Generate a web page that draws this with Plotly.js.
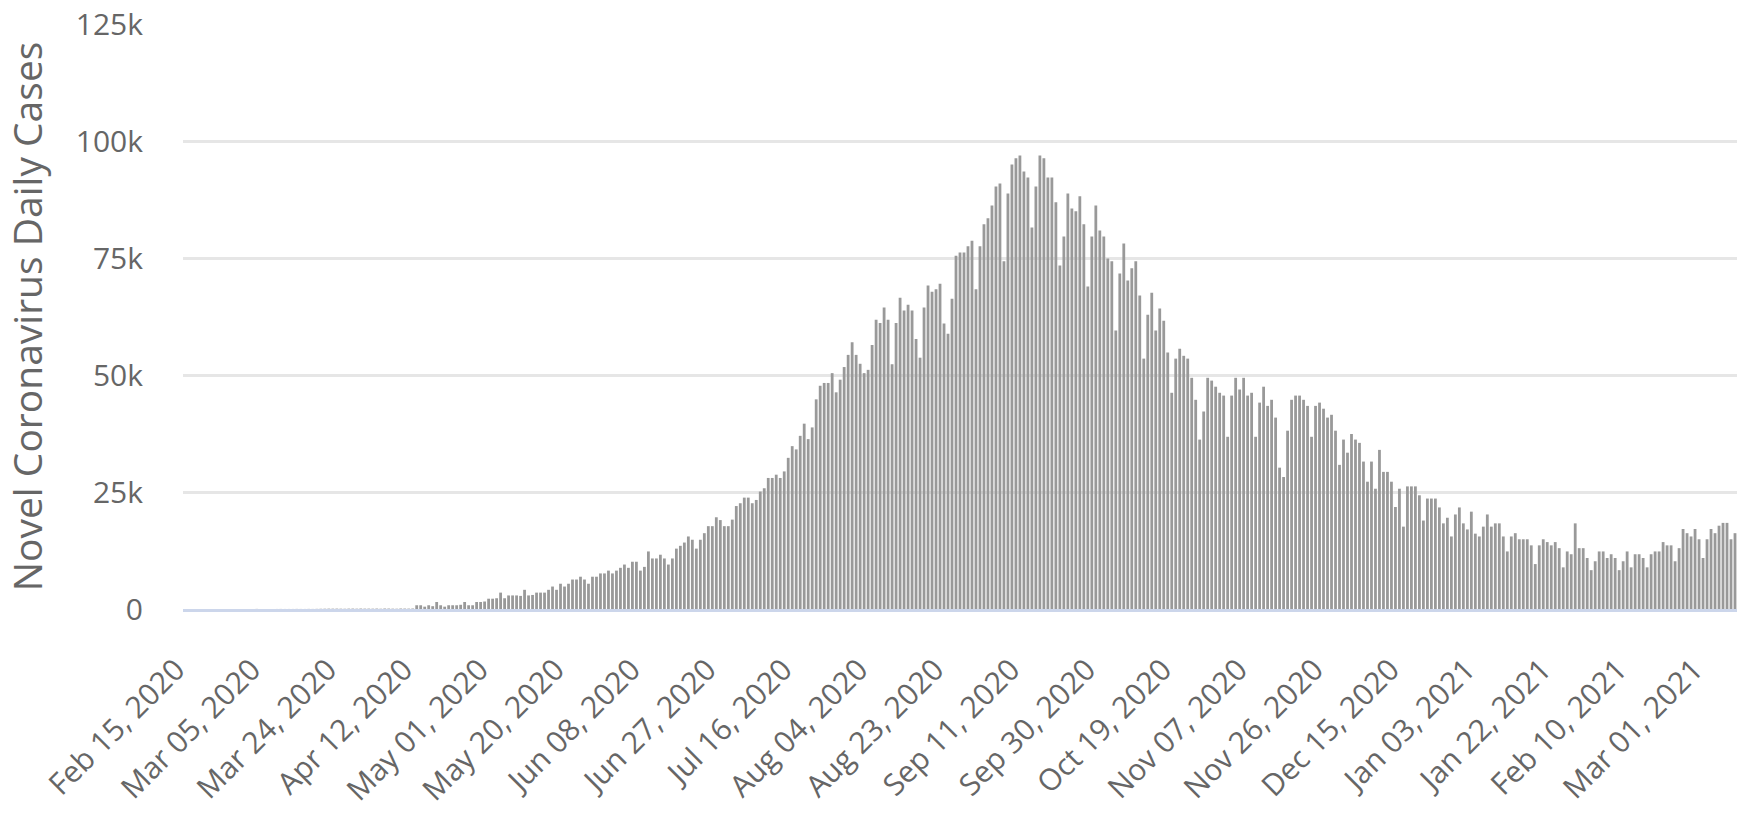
<!DOCTYPE html>
<html>
<head>
<meta charset="utf-8">
<script src="https://cdn.plot.ly/plotly-3.0.1.min.js"></script>
<style>
  html, body { margin: 0; padding: 0; background: #ffffff; }
  #chart { width: 1737px; height: 822px; }
</style>
</head>
<body>
<div id="chart"></div>
<script>
// First day shown on the chart; one bar per day after it
const startDate = "2020-02-15";

// Daily new cases, one array per month
const feb2020 = [0,0,0,0,0,0,0,0,0,0,0,0,0,0,0];
const mar2020 = [0,2,1,22,2,1,3,5,9,15,8,10,10,21,12,11,23,14,33,51,64,77,75,82,68,55,79,88,66,97,76];
const apr2020 = [80,70,90,60,100,90,70,60,100,90,80,100,
                 800,800,500,800,600,1500,800,500,800,800,800,900,1500,800,800,1500,1500,1600];
const may2020 = [2200,2200,2300,3500,2300,2900,2900,2900,2800,4100,2900,3000,3500,3500,3500,4100,
                 4800,4100,5400,4800,5400,6300,6300,6900,6300,5400,6900,6900,7600,7600,8200];
const jun2020 = [7600,8200,8800,9500,8800,10100,10100,8200,9000,12300,10800,10800,11600,10800,9500,
                 10800,12900,13500,14200,15500,14800,12900,14800,16200,17700,17700,19600,19000,17700,17700];
const jul2020 = [19100,22000,22600,23800,23800,22600,23300,25100,25800,28000,28000,28700,28000,29400,32300,
                 34800,34100,37000,39600,36300,38800,44800,47700,48300,48300,50400,46300,49000,51700,54300,57000];
const aug2020 = [54300,52400,50400,51100,56400,61800,61100,64400,61800,52300,61100,66500,63800,65000,63800,
                 57700,53700,64400,69100,67800,68300,69500,61000,58800,66300,75500,76200,76200,77500,78700,68300];
const sep2020 = [77500,82200,83500,86200,90300,90900,74300,88800,95000,96300,96900,93500,92200,81500,90300,
                 96900,96300,92200,92200,86900,73400,79600,88800,85600,85000,88200,82200,68900,79600,86200];
const oct2020 = [80900,79600,74900,74300,59500,71700,78100,70200,72800,74300,67000,53500,62900,67600,59500,
                 64200,61600,54800,46200,53500,55600,54100,53500,49400,44700,36200,42200,49400,48800,47500,46200];
const nov2020 = [45600,36800,45600,49400,46900,49400,45600,46200,36800,44100,47500,43400,44700,40900,30200,
                 28200,38100,44700,45600,45600,44700,43400,36800,43400,44100,42800,40900,41500,38100,30800];
const dec2020 = [36200,33400,37400,36200,35500,31500,27200,31500,25700,34000,29300,29300,27200,21800,25700,
                 17600,26200,26200,26200,24300,18900,23600,23600,23600,21700,18300,19500,15500,20200,21700,18300];
const jan2021 = [17000,20800,16100,15500,17600,20200,17600,18300,18300,15500,12300,15500,16200,14900,14900,
                 14900,13600,9600,13600,14900,14300,13600,14300,13000,8900,12300,11700,18300,13000,13000,10900];
const feb2021 = [8300,10200,12300,12300,10900,11700,10900,8300,10200,12300,8900,11700,11700,10900,8900,
                 11700,12300,12300,14300,13600,13600,10200,13000,17100,16200,15500,17100,14900];
const mar2021 = [10900,14900,17100,16200,17800,18400,18400,14900,16200];

// Y axis tick labels
const yTickVals = [0, 25000, 50000, 75000, 100000, 125000];
const yTickText = ["0", "25k", "50k", "75k", "100k", "125k"];

const dailyCases = [].concat(feb2020, mar2020, apr2020, may2020, jun2020, jul2020,
                             aug2020, sep2020, oct2020, nov2020, dec2020, jan2021, feb2021, mar2021);

function dayString(base, n) {
  const d = new Date(base + "T00:00:00Z");
  d.setUTCDate(d.getUTCDate() + n);
  return d.toISOString().slice(0, 10);
}
const dates = dailyCases.map((_, i) => dayString(startDate, i));
const lastDate = dates[dates.length - 1];

const trace = {
  type: "bar",
  x: dates,
  y: dailyCases,
  marker: { color: "#999999", line: { width: 0 } },
  hoverinfo: "x+y",
  showlegend: false
};

const fontFamily = '"Open Sans", "Segoe UI", "DejaVu Sans", sans-serif';

const layout = {
  width: 1737,
  height: 822,
  margin: { l: 183, r: 0, t: 24, b: 213, pad: 0 },
  paper_bgcolor: "#ffffff",
  plot_bgcolor: "#ffffff",
  bargap: 0.3,
  font: { family: fontFamily, color: "#666666", size: 30 },
  xaxis: {
    type: "date",
    range: [dayString(startDate, -1) + " 12:00", lastDate + " 12:00"],
    tickmode: "linear",
    tick0: startDate,
    dtick: 19 * 86400000,
    tickformat: "%b %d, %Y",
    tickangle: -45,
    ticks: "outside",
    ticklen: 28,
    tickcolor: "rgba(0,0,0,0)",
    ticklabelshift: -9,
    tickfont: { family: fontFamily, size: 30, color: "#666666" },
    showgrid: false,
    showline: true,
    linecolor: "#ccd6eb",
    linewidth: 3,
    zeroline: false,
    fixedrange: true
  },
  yaxis: {
    range: [0, 125000],
    tickmode: "array",
    tickvals: yTickVals,
    ticktext: yTickText,
    ticks: "outside",
    ticklen: 33,
    tickcolor: "rgba(0,0,0,0)",
    tickfont: { family: fontFamily, size: 30, color: "#666666" },
    showgrid: true,
    gridcolor: "#e6e6e6",
    gridwidth: 3,
    zeroline: false,
    showline: false,
    title: {
      text: "Novel Coronavirus Daily Cases",
      font: { family: fontFamily, size: 39, color: "#666666" },
      standoff: 24
    },
    fixedrange: true
  }
};

Plotly.newPlot("chart", [trace], layout, { displayModeBar: false, staticPlot: true });
</script>
</body>
</html>
